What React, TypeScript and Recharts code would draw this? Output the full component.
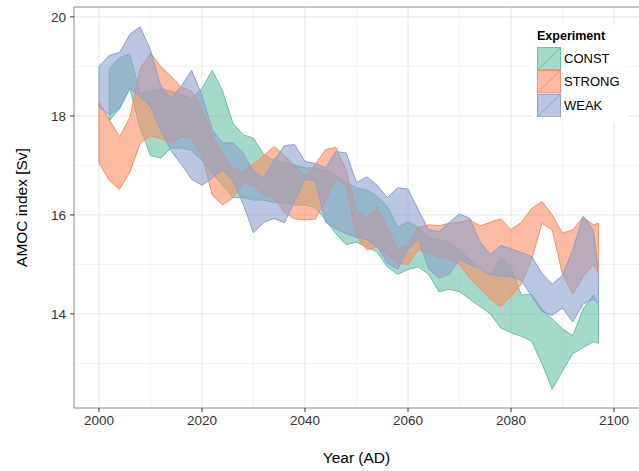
import { ComposedChart, Area, XAxis, YAxis, CartesianGrid, ReferenceLine, Legend } from 'recharts'

const FONT = '"Liberation Sans", Arial, Helvetica, sans-serif'

const YEARS = [
  2000, 2002, 2004, 2006, 2008, 2010, 2012, 2014, 2016, 2018,
  2020, 2022, 2024, 2026, 2028, 2030, 2032, 2034, 2036, 2038,
  2040, 2042, 2044, 2046, 2048, 2050, 2052, 2054, 2056, 2058,
  2060, 2062, 2064, 2066, 2068, 2070, 2072, 2074, 2076, 2078,
  2080, 2082, 2084, 2086, 2088, 2090, 2092, 2094, 2096, 2097,
]

const CONST_HIGH = [
  null, 18.95, 19.18, 19.25, 18.45, 18.5, 18.55, 18.5, 18.42, 18.35,
  18.56, 18.92, 18.5, 17.85, 17.62, 17.55, 17.22, 17.1, 17.05, 17.0,
  16.95, 16.95, 16.9, 16.8, 16.65, 16.55, 16.5, 16.38, 16.17, 15.75,
  15.86, 15.75, 15.55, 15.5, 15.45, 15.3, 15.1, 14.9, 14.78, 15.15,
  14.95, 14.38, 14.4, 14.1, 13.9, 13.7, 13.56, 14.1, 14.38, 14.18,
]
const CONST_LOW = [
  null, 17.9, 18.15, 18.55, 17.75, 17.2, 17.15, 17.35, 17.35, 17.3,
  17.1, 16.85, 16.6, 16.35, 16.35, 16.3, 16.3, 16.25, 16.25, 16.2,
  16.2, 16.15, 15.9, 15.62, 15.4, 15.45, 15.35, 15.25, 14.95, 14.8,
  14.9, 14.95, 14.8, 14.45, 14.5, 14.45, 14.3, 14.15, 14.0, 13.72,
  13.62, 13.55, 13.45, 13.0, 12.48, 12.85, 13.2, 13.32, 13.44, 13.41,
]

const STRONG_HIGH = [
  18.28, 17.92, 17.58, 17.97, 18.95, 19.27, 19.0, 18.8, 18.58, 18.5,
  18.15, 17.58, 17.25, 16.94, 16.87, 17.03, 17.2, 17.38, 17.2, 17.0,
  16.78, 17.02, 17.32, 17.36, 16.9, 16.1, 15.95, 16.15, 15.75, 15.3,
  15.4, 15.75, 15.8, 15.78, 15.83, 15.85, 15.9, 15.78, 15.85, 15.92,
  15.7, 15.85, 16.13, 16.27, 16.0, 15.63, 15.7, 15.95, 15.8, 15.83,
]
const STRONG_LOW = [
  17.05, 16.7, 16.52, 16.87, 17.45, 17.6, 17.55, 17.45, 17.58, 17.55,
  17.2, 16.4, 16.2, 16.35, 16.65, 16.6, 16.4, 16.34, 16.05, 15.92,
  15.9, 15.92, 16.3, 16.72, 16.6, 15.55, 15.3, 15.35, 15.2, 15.03,
  15.0, 15.3, 15.22, 15.15, 15.1, 15.0, 14.72, 14.5, 14.3, 14.15,
  14.35, 14.6, 15.1, 15.83, 15.7, 14.8, 14.4, 14.75, 15.0, 14.82,
]

const WEAK_HIGH = [
  19.0, 19.22, 19.28, 19.65, 19.8, 19.33, 18.6, 18.36, 18.6, 18.92,
  18.42, 17.72, 17.45, 17.46, 17.25, 16.88, 16.75, 17.1, 17.4, 17.42,
  17.08, 17.04, 16.95, 17.28, 17.25, 16.65, 16.77, 16.6, 16.35, 16.55,
  16.52, 16.1, 15.7, 15.66, 15.85, 16.02, 15.93, 15.45, 15.2, 15.38,
  15.32, 15.24, 15.16, 14.82, 14.6, 14.78, 15.3, 15.97, 15.7, 14.82,
]
const WEAK_LOW = [
  18.18, 18.02, 18.15, 18.56, 18.38, 18.2, 17.7, 17.3, 17.02, 16.72,
  16.6, 16.75, 16.91, 16.7, 16.22, 15.64, 15.85, 15.93, 15.84, 16.28,
  16.72, 16.7, 15.85, 15.72, 15.62, 15.55, 15.5, 15.36, 15.02, 14.9,
  15.3, 15.52, 14.92, 14.72, 14.8, 15.1, 15.0, 14.93, 14.8, 14.76,
  14.75, 14.68, 14.36, 14.05, 13.97, 14.12, 13.84, 14.2, 14.3, 14.22,
]

const X_TICKS = [2000, 2020, 2040, 2060, 2080, 2100]
const X_MINOR = [2010, 2030, 2050, 2070, 2090]
const Y_TICKS = [14, 16, 18, 20]
const Y_MINOR = [13, 15, 17, 19]

const X_DOMAIN = [1995.15, 2104.85]
const Y_DOMAIN = [12.1, 20.2]

const SERIES = [
  { key: 'const', name: 'CONST', color: '#66C2A5', fill: '#A3DAC9', low: CONST_LOW, high: CONST_HIGH },
  { key: 'strong', name: 'STRONG', color: '#FC8D62', fill: '#FDBBA1', low: STRONG_LOW, high: STRONG_HIGH },
  { key: 'weak', name: 'WEAK', color: '#8DA0CB', fill: '#BBC6E0', low: WEAK_LOW, high: WEAK_HIGH },
]

const data = YEARS.map((year, i) => {
  const row: Record<string, any> = { year }
  SERIES.forEach((s) => {
    row[s.key] = s.high[i] == null ? null : [s.low[i], s.high[i]]
  })
  return row
})

// vertical closing edges of each ribbon (ggplot draws the full polygon outline)
const edges = SERIES.flatMap((s) => {
  const idx = YEARS.map((_, i) => i).filter((i) => s.high[i] != null)
  return [idx[0], idx[idx.length - 1]].map((i) => ({
    key: `${s.key}-${i}`,
    color: s.color,
    segment: [
      { x: YEARS[i], y: s.low[i] as number },
      { x: YEARS[i], y: s.high[i] as number },
    ],
  }))
})

function ExperimentLegend() {
  return (
    <div
      style={{
        background: '#fff',
        width: 96,
        height: 97,
        boxSizing: 'border-box',
        padding: '4px 0 0 5px',
        fontFamily: FONT,
        color: '#000',
      }}
    >
      <div style={{ fontWeight: 'bold', fontSize: 12.5, lineHeight: '15px', marginBottom: 3 }}>Experiment</div>
      {SERIES.map((s) => (
        <div key={s.key} style={{ display: 'flex', alignItems: 'center', height: 23.3 }}>
          <svg width={24} height={23.3} style={{ display: 'block' }}>
            <rect x={0.5} y={0.5} width={23} height={22.3} fill={s.fill} stroke={s.color} strokeWidth={1} />
            <line x1={0.5} y1={22.8} x2={23.5} y2={0.5} stroke={s.color} strokeWidth={1} />
          </svg>
          <span style={{ marginLeft: 3, fontSize: 13 }}>{s.name}</span>
        </div>
      ))}
    </div>
  )
}

const YTitle = ({ viewBox }: any) => {
  const cx = viewBox.x + 21
  const cy = viewBox.y + viewBox.height / 2
  return (
    <text
      x={cx}
      y={cy}
      transform={`rotate(-90 ${cx} ${cy})`}
      textAnchor="middle"
      dominantBaseline="central"
      fontFamily={FONT}
      fontSize={15.5}
      fill="#000"
    >
      AMOC index [Sv]
    </text>
  )
}

const XTitle = ({ viewBox }: any) => (
  <text
    x={viewBox.x + viewBox.width / 2}
    y={463}
    textAnchor="middle"
    fontFamily={FONT}
    fontSize={15.5}
    fill="#000"
  >
    Year (AD)
  </text>
)

export default function App() {
  return (
    <div style={{ position: 'absolute', left: 0, top: 0, width: 639, height: 471, background: '#fff' }}>
      <ComposedChart width={639} height={471} data={data} margin={{ top: 7, right: 0, bottom: 0, left: 0 }}>
        <CartesianGrid stroke="#f3f3f3" strokeWidth={1} horizontalValues={Y_MINOR} verticalValues={X_MINOR} />
        <CartesianGrid stroke="#e4e4e4" strokeWidth={1} horizontalValues={Y_TICKS} verticalValues={X_TICKS} />
        <XAxis
          dataKey="year"
          type="number"
          domain={X_DOMAIN}
          ticks={X_TICKS}
          allowDataOverflow
          height={63}
          tickSize={4}
          tickMargin={3}
          axisLine={{ stroke: '#8a8a8a' }}
          tickLine={{ stroke: '#333' }}
          tick={{ fontFamily: FONT, fontSize: 13.5, fill: '#333' }}
          label={<XTitle />}
        />
        <YAxis
          type="number"
          domain={Y_DOMAIN}
          ticks={Y_TICKS}
          allowDataOverflow
          width={74}
          tickSize={4}
          tickMargin={4}
          axisLine={{ stroke: '#8a8a8a' }}
          tickLine={{ stroke: '#333' }}
          tick={{ fontFamily: FONT, fontSize: 13.5, fill: '#333' }}
          label={<YTitle />}
        />
        <ReferenceLine y={Y_DOMAIN[1]} stroke="#8a8a8a" ifOverflow="extendDomain" />
        {SERIES.map((s) => (
          <Area
            key={s.key}
            dataKey={s.key}
            name={s.name}
            type="linear"
            stroke={s.color}
            strokeWidth={1}
            fill={s.color}
            fillOpacity={0.6}
            isAnimationActive={false}
            dot={false}
            activeDot={false}
          />
        ))}
        {edges.map((e) => (
          <ReferenceLine key={e.key} segment={e.segment} stroke={e.color} strokeWidth={1} ifOverflow="visible" />
        ))}
        <Legend
          layout="horizontal"
          verticalAlign="middle"
          align="center"
          wrapperStyle={{ left: 532, top: 25, width: 96 }}
          content={<ExperimentLegend />}
        />
      </ComposedChart>
    </div>
  )
}
